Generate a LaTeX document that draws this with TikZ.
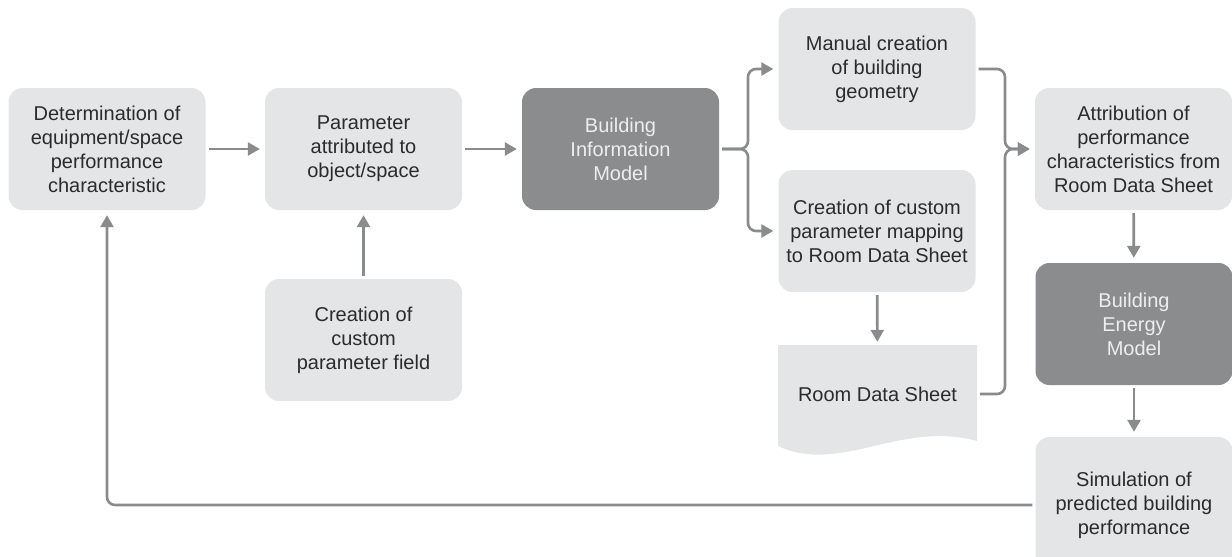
\documentclass[tikz,border=0pt]{standalone}
\usepackage{fontspec}
\setmainfont{Liberation Sans}
\usetikzlibrary{arrows.meta}
\definecolor{boxfill}{HTML}{E4E5E7}
\definecolor{darkfill}{HTML}{8B8C8E}
\definecolor{linegray}{HTML}{8A8B8D}
\definecolor{txt}{HTML}{2B2B2B}
\definecolor{lighttxt}{HTML}{EEEEEE}

\begin{document}
\begin{tikzpicture}[x=1pt,y=-1pt,
  proc/.style={rectangle, rounded corners=14pt, fill=boxfill, text=txt,
    minimum width=197pt, minimum height=122pt, align=center,
    font=\fontsize{20}{24}\selectfont, inner sep=0pt},
  dark/.style={proc, fill=darkfill, text=lighttxt},
  flow/.style={draw=linegray, line width=2.6pt,
    -{Triangle[length=12pt,width=13pt]}, shorten >=5pt, shorten <=3pt},
  ]
\useasboundingbox (0,0) rectangle (1232,557);

% process boxes
\node[proc] (det) at (107,149) {Determination of\\equipment/space\\performance\\characteristic};
\node[proc] (par) at (363.5,149) {Parameter\\attributed to\\object/space};
\node[dark] (bim) at (620.5,149) {Building\\Information\\Model};
\node[proc] (geo) at (877,69) {Manual creation\\of building\\geometry};
\node[proc] (map) at (877,231) {Creation of custom\\parameter mapping\\to Room Data Sheet};
\node[proc] (fld) at (363.5,340) {Creation of\\custom\\parameter field};
\node[proc] (att) at (1133.5,149) {Attribution of\\performance\\characteristics from\\Room Data Sheet};
\node[dark] (bem) at (1134,324) {Building\\Energy\\Model};
\node[proc, minimum height=136pt] (sim) at (1134,505) {Simulation of\\predicted building\\performance};

% document shape with wavy bottom edge
\fill[boxfill] (778,345) -- (977,345) -- (977,441)
  .. controls (900,420) and (840,475) .. (778,446) -- cycle;
\node[rectangle, minimum width=199pt, minimum height=94pt, inner sep=0pt,
  text=txt, font=\fontsize{20}{24}\selectfont] (rds) at (877.5,394) {Room Data Sheet};

% junction points
\coordinate (fork) at (748,149);
\coordinate (join) at (1005,149);

% connectors
\draw[flow] (det) -- (par);
\draw[flow] (par) -- (bim);
\draw[flow] (fld) -- (par);
\draw[flow, rounded corners=8pt] (bim.east) -- (fork) |- (geo.west);
\draw[flow, rounded corners=8pt] (bim.east) -- (fork) |- (map.west);
\draw[flow] (map) -- (rds);
\draw[flow, rounded corners=8pt] (geo.east) -| (join) -- (att.west);
\draw[flow, rounded corners=8pt] (rds.east) -| (join) -- (att.west);
\draw[flow] (att) -- (bem);
\draw[flow] (bem) -- (sim);
\draw[flow, rounded corners=8pt] (sim.west) -| (det.south);
\end{tikzpicture}
\end{document}
